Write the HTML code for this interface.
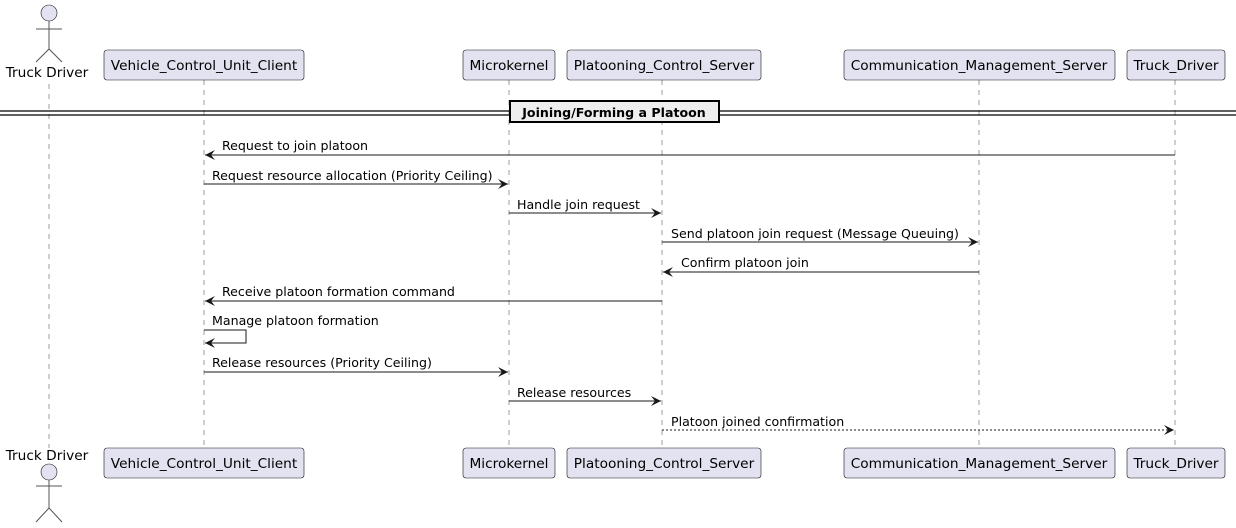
<!DOCTYPE html>
<html><head><meta charset="utf-8"><style>html,body{margin:0;padding:0;background:#fff}svg{display:block}text{font-family:"DejaVu Sans","Liberation Sans",sans-serif;font-size:12.6px;fill:#000}.p{font-size:13.7px}</style></head>
<body>
<svg width="1236" height="528" viewBox="0 0 1236 528" xmlns="http://www.w3.org/2000/svg">
<defs>
<marker id="a" markerWidth="12" markerHeight="10" refX="10" refY="5" orient="auto" markerUnits="userSpaceOnUse"><path d="M0,0 L10,5 L0,10 L4,5 Z" fill="#181818"/></marker>
</defs>
<g stroke="#181818" stroke-width="0.6" stroke-dasharray="5,5" opacity="0.7">
<line x1="49" y1="84" x2="49" y2="448"/>
<line x1="204" y1="80" x2="204" y2="448"/>
<line x1="509" y1="80" x2="509" y2="448"/>
<line x1="662" y1="80" x2="662" y2="448"/>
<line x1="979" y1="80" x2="979" y2="448"/>
<line x1="1175" y1="80" x2="1175" y2="448"/>
</g>
<g fill="#E2E2F0" stroke="#181818" stroke-width="0.6">
<circle cx="49" cy="13" r="8"/>
<circle cx="49" cy="472" r="8"/>
</g>
<g stroke="#555" stroke-width="1" fill="none">
<path d="M49,21 V49 M36,29 H62 M36,62 L49,49 L62,62"/>
<path d="M49,480 V508 M36,486 H62 M36,522 L49,508 L62,522"/>
</g>
<text class="p" x="47" y="77" text-anchor="middle">Truck Driver</text>
<text class="p" x="47" y="460" text-anchor="middle">Truck Driver</text>
<g fill="#E2E2F0" stroke="#181818" stroke-width="0.6">
<rect x="104" y="50" width="200" height="30" rx="3"/><rect x="463" y="50" width="92" height="30" rx="3"/><rect x="567" y="50" width="194" height="30" rx="3"/><rect x="844" y="50" width="271" height="30" rx="3"/><rect x="1127" y="50" width="98" height="30" rx="3"/>
<rect x="104" y="448" width="200" height="30" rx="3"/><rect x="463" y="448" width="92" height="30" rx="3"/><rect x="567" y="448" width="194" height="30" rx="3"/><rect x="844" y="448" width="271" height="30" rx="3"/><rect x="1127" y="448" width="98" height="30" rx="3"/>
</g>
<g text-anchor="middle" class="p">
<text class="p" x="204" y="70">Vehicle_Control_Unit_Client</text><text class="p" x="509" y="70">Microkernel</text><text class="p" x="664" y="70">Platooning_Control_Server</text><text class="p" x="979" y="70">Communication_Management_Server</text><text class="p" x="1176" y="70">Truck_Driver</text>
<text class="p" x="204" y="468">Vehicle_Control_Unit_Client</text><text class="p" x="509" y="468">Microkernel</text><text class="p" x="664" y="468">Platooning_Control_Server</text><text class="p" x="979" y="468">Communication_Management_Server</text><text class="p" x="1176" y="468">Truck_Driver</text>
</g>
<g stroke="#000" stroke-width="1.2"><line x1="0" y1="111" x2="1236" y2="111"/><line x1="0" y1="115" x2="1236" y2="115"/></g>
<rect x="510" y="101" width="209" height="21" fill="#EEEEEE" stroke="#000" stroke-width="2"/>
<text x="614" y="117" text-anchor="middle" style="font-weight:bold">Joining/Forming a Platoon</text>
<g stroke="#181818" stroke-width="1" fill="none" marker-end="url(#a)">
<line x1="1175" y1="155" x2="205" y2="155"/>
<line x1="204" y1="184" x2="508" y2="184"/>
<line x1="509" y1="213" x2="661" y2="213"/>
<line x1="662" y1="242" x2="978" y2="242"/>
<line x1="979" y1="272" x2="663" y2="272"/>
<line x1="662" y1="301" x2="205" y2="301"/>
<path d="M204,330 H246 V343 H205"/>
<line x1="204" y1="372" x2="508" y2="372"/>
<line x1="509" y1="401" x2="661" y2="401"/>
<line x1="662" y1="430" x2="1174" y2="430" stroke-dasharray="2,2"/>
</g>
<text x="222" y="150">Request to join platoon</text>
<text x="212" y="180">Request resource allocation (Priority Ceiling)</text>
<text x="517" y="209">Handle join request</text>
<text x="671" y="238">Send platoon join request (Message Queuing)</text>
<text x="681" y="267">Confirm platoon join</text>
<text x="222" y="296">Receive platoon formation command</text>
<text x="212" y="325">Manage platoon formation</text>
<text x="212" y="367">Release resources (Priority Ceiling)</text>
<text x="517" y="397">Release resources</text>
<text x="671" y="426">Platoon joined confirmation</text>
</svg>
</body></html>
